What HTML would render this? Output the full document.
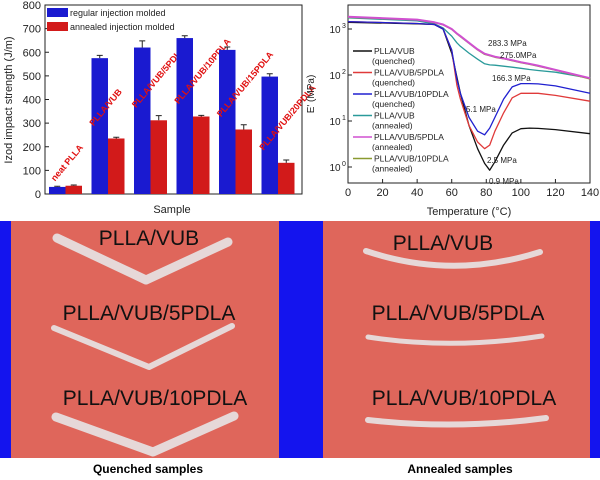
<!DOCTYPE html>
<html><head><meta charset="utf-8"><style>
body{margin:0;width:600px;height:480px;background:#fff;overflow:hidden;font-family:"Liberation Sans",sans-serif}
svg{position:absolute;left:0;top:0}
</style></head><body>
<svg id="root" width="600" height="480" viewBox="0 0 600 480">
 <g id="bar"></g>
 <g id="dma"></g>
 <g id="photo">
  <rect x="0" y="221" width="600" height="237" fill="#1414ee"/>
  <rect x="11" y="221" width="268" height="237" fill="#df665b"/>
  <rect x="323" y="221" width="267" height="237" fill="#df665b"/>
  <g fill="none" stroke="#e6d8d8" stroke-linecap="round" stroke-linejoin="round">
   <path d="M57,238 L146,280 L228,242" stroke-width="9"/>
   <path d="M54,328 L149,367 L232,326" stroke-width="6"/>
   <path d="M56,417 L153,452 L234,416" stroke-width="9"/>
   <path d="M366,251 Q452,280 540,252" stroke-width="6"/>
   <path d="M368,337 Q452,350 542,336" stroke-width="5"/>
   <path d="M368,420 Q456,430 546,418" stroke-width="6"/>
  </g>
  <g font-size="21" fill="#111" text-anchor="middle">
   <text x="149" y="245">PLLA/VUB</text>
   <text x="149" y="320">PLLA/VUB/5PDLA</text>
   <text x="155" y="405">PLLA/VUB/10PDLA</text>
   <text x="443" y="250">PLLA/VUB</text>
   <text x="458" y="320">PLLA/VUB/5PDLA</text>
   <text x="464" y="405">PLLA/VUB/10PDLA</text>
  </g>
  <text x="148" y="473" font-size="12" font-weight="bold" text-anchor="middle">Quenched samples</text>
  <text x="460" y="473" font-size="12" font-weight="bold" text-anchor="middle">Annealed samples</text>
 </g>
</svg>
<script>
const NS='http://www.w3.org/2000/svg';
function mk(p,t,a,txt){const e=document.createElementNS(NS,t);for(const k in a)e.setAttribute(k,a[k]);if(txt!==undefined)e.textContent=txt;p.appendChild(e);return e;}

// ---- bar chart data ----
const categories=['neat PLLA','PLLA/VUB','PLLA/VUB/5PDLA','PLLA/VUB/10PDLA','PLLA/VUB/15PDLA','PLLA/VUB/20PDLA'];
const regular=[30,575,620,660,610,497];
const regularErr=[3,12,28,10,12,12];
const annealed=[35,235,312,328,273,132];
const annealedErr=[3,5,20,5,20,12];
const barTicks=[0,100,200,300,400,500,600,700,800];

const bar=document.getElementById('bar');
const bx0=45,bx1=300,by0=194,by1=5;
const yB=v=>by0-(v/800)*(by0-by1);
const band=(bx1-bx0)/categories.length;
let e=mk(bar,'rect',{x:bx0,y:by1,width:bx1-bx0+2,height:by0-by1,fill:'none',stroke:'#222','stroke-width':1});

barTicks.forEach(t=>{
  const l=mk(bar,'line',{x1:bx0,x2:bx0+4,y1:yB(t),y2:yB(t),stroke:'#222'});
  
  const tx=mk(bar,'text',{x:bx0-4,y:yB(t)+4,'font-size':11,'text-anchor':'end',fill:'#222'},t);
  
});
categories.forEach((c,i)=>{
  const gx=bx0+band*i+4, w=16.5;
  [[regular,regularErr,'#1a1ad0',gx],[annealed,annealedErr,'#d21a1a',gx+w]].forEach(([arr,err,col,x],k)=>{
    const r=mk(bar,'rect',{x:x,y:yB(arr[i]),width:w,height:by0-yB(arr[i]),fill:col});
    
    const cx=x+w/2, ya=yB(arr[i]+err[i]);
    const eb=mk(bar,'path',{d:`M${cx},${yB(arr[i])}V${ya}M${cx-3},${ya}H${cx+3}`,stroke:'#222',fill:'none','stroke-width':1});
    
  });
  const lx=gx+(i===0?6:2), ly=yB(annealed[i])-(i===0?4:12);
  const lt=mk(bar,'text',{x:lx,y:ly,'font-size':9,'font-weight':'bold',fill:'#e01010',transform:`rotate(-50 ${lx} ${ly})`},c);
  
});
e=mk(bar,'text',{x:12,y:100,'font-size':11,'text-anchor':'middle',fill:'#222',transform:'rotate(-90 12 100)'},'Izod impact strength (J/m)');

e=mk(bar,'text',{x:172,y:213,'font-size':11,'text-anchor':'middle',fill:'#222'},'Sample');

[['#1a1ad0','regular injection molded',8],['#d21a1a','annealed injection molded',22]].forEach(([c,t,y])=>{
  const r=mk(bar,'rect',{x:47,y:y,width:21,height:9,fill:c});
  const tx=mk(bar,'text',{x:70,y:y+8,'font-size':9,fill:'#222'},t);
});

// ---- DMA chart data ----
const temps=[0,40,50,55,60,63,65,70,75,79,82,85,90,95,100,105,110,120,140];
const quenchedVUB=[1400,1300,1250,1000,300,90,40,8,2.5,1.2,0.85,1.3,3,5.5,6.8,7,6.9,6.5,5.3];
const quenched5=[1450,1320,1250,1000,350,60,30,8,3.5,2.5,3,6,15,32,40,40,40,36,27];
const quenched10=[1450,1320,1250,1000,350,80,40,12,6,5,7,12,30,55,65,65,64,58,40];
const annealedVUB=[1750,1500,1300,1050,700,500,420,300,220,175,166,163,155,148,140,132,125,115,85];
const annealed5=[1850,1600,1400,1250,1000,800,700,500,360,290,270,250,230,210,190,175,160,130,85];
const annealed10=[1800,1570,1380,1230,980,780,680,490,350,280,262,243,225,205,185,170,155,127,82];
const seriesNames=['PLLA/VUB (quenched)','PLLA/VUB/5PDLA (quenched)','PLLA/VUB/10PDLA (quenched)','PLLA/VUB (annealed)','PLLA/VUB/5PDLA (annealed)','PLLA/VUB/10PDLA (annealed)'];
const xTicks=[0,20,40,60,80,100,120,140];
const yTicks=[0,1,2,3];

const dma=document.getElementById('dma');
const dx0=348,dx1=590,dy0=183,dy1=5;
const xD=t=>dx0+t/140*(dx1-dx0);
const yD=v=>167-Math.log10(v)*46;
e=mk(dma,'rect',{x:dx0,y:dy1,width:dx1-dx0,height:dy0-dy1,fill:'none',stroke:'#222'});

xTicks.forEach(t=>{
  const l=mk(dma,'line',{x1:xD(t),x2:xD(t),y1:dy0,y2:dy0-4,stroke:'#222'});
  const tx=mk(dma,'text',{x:xD(t),y:dy0+13,'font-size':11,'text-anchor':'middle',fill:'#222'},t);
  
});
yTicks.forEach(p=>{
  const y=yD(Math.pow(10,p));
  const l=mk(dma,'line',{x1:dx0,x2:dx0+4,y1:y,y2:y,stroke:'#222'});
  const tx=mk(dma,'text',{x:dx0-13,y:y+4,'font-size':10,'text-anchor':'middle',fill:'#222'},'10');
  
  const sp=mk(dma,'text',{x:dx0-6,y:y-1,'font-size':7,fill:'#222'},String(p));
  
});
e=mk(dma,'text',{x:314,y:94,'font-size':10,'text-anchor':'middle',fill:'#222',transform:'rotate(-90 314 94)'},"E' (MPa)");

e=mk(dma,'text',{x:469,y:215,'font-size':11,'text-anchor':'middle',fill:'#222'},'Temperature (°C)');

const allSeries=[quenchedVUB,quenched5,quenched10,annealedVUB,annealed5,annealed10];
const colors=['#111','#e03a3a','#2020d0','#2a9a9a','#d050d0','#8a9a30'];
[3,5,4,0,1,2].forEach(s=>{
  const d=temps.map((t,i)=>(i?'L':'M')+xD(t).toFixed(1)+','+yD(allSeries[s][i]).toFixed(1)).join('');
  const p=mk(dma,'path',{d:d,fill:'none',stroke:colors[s],'stroke-width':s===4?2:1.3,'stroke-linejoin':'round'});
  
});
seriesNames.forEach((n,i)=>{
  const y=54+i*21.5;
  const l=mk(dma,'line',{x1:353,x2:372,y1:y-3,y2:y-3,stroke:colors[i],'stroke-width':1.5});
  
  const parts=n.split(' ');
  const t1=mk(dma,'text',{x:374,y:y,'font-size':8.5,fill:'#222'},parts[0]);
  
  const t2=mk(dma,'text',{x:372,y:y+10,'font-size':8.5,fill:'#222'},parts[1]);
  
});
[['283.3 MPa',488,46],['275.0MPa',500,58],['166.3 MPa',492,81],['5.1 MPa',466,112],['2.5 MPa',487,163],['0.9 MPa',489,184]].forEach(([t,x,y])=>{
  const a=mk(dma,'text',{x:x,y:y,'font-size':8,fill:'#222'},t);
  
});
</script>
</body></html>
